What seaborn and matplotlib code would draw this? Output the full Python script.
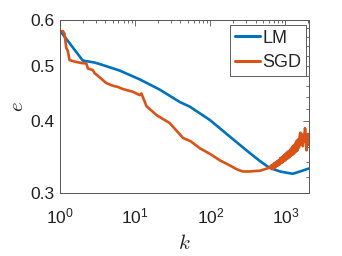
import matplotlib
matplotlib.use("Agg")
import matplotlib.pyplot as plt
import seaborn as sns
import pandas as pd
from matplotlib.ticker import FixedLocator, FixedFormatter, LogLocator, NullFormatter

# ---- data ----
lm_k = [1, 2.01, 2.88, 3.36, 6.21, 11.5, 21.2, 39.2, 53.3, 98.5, 182, 336, 457,
        608, 845, 1247, 1561, 2056]
lm_e = [0.575, 0.510, 0.506, 0.503, 0.490, 0.473, 0.454, 0.432, 0.424, 0.402,
        0.376, 0.352, 0.341, 0.332, 0.327, 0.324, 0.327, 0.331]

sgd_k = [1, 1.09, 1.148, 1.21, 1.27, 1.339, 1.56, 1.92, 2.24, 2.35, 2.74, 2.88,
         3.36, 4.13, 5.06, 5.84, 6.87, 9.35, 11.5, 12.1, 13.0, 14.1, 19.2, 28.8,
         43.4, 55, 72.4, 98.5, 134, 182, 224, 271, 336, 392, 457, 533, 608,
         646, 661, 676, 692, 708, 724, 741, 759, 776, 794, 813, 832, 851, 871,
         891, 912, 933, 955, 977, 1000, 1023, 1047, 1072, 1096, 1122, 1148,
         1175, 1202, 1230, 1259, 1288, 1318, 1349, 1380, 1413, 1445, 1479,
         1514, 1549, 1585, 1622, 1660, 1698, 1738, 1778, 1820, 1862, 1905,
         1950, 1995, 2042, 2056]
sgd_e = [0.5725, 0.574, 0.568, 0.537, 0.530, 0.511, 0.508, 0.505, 0.504, 0.494,
         0.491, 0.485, 0.477, 0.466, 0.461, 0.459, 0.455, 0.450, 0.444, 0.447,
         0.437, 0.425, 0.410, 0.397, 0.374, 0.369, 0.359, 0.351, 0.342, 0.335,
         0.330, 0.327, 0.327, 0.3276, 0.328, 0.330, 0.332,
         0.335, 0.330, 0.336, 0.331, 0.338, 0.332, 0.339, 0.334, 0.341, 0.335,
         0.342, 0.336, 0.345, 0.338, 0.346, 0.339, 0.348, 0.341, 0.350, 0.342,
         0.352, 0.344, 0.354, 0.345, 0.355, 0.347, 0.358, 0.349, 0.361, 0.350,
         0.363, 0.352, 0.366, 0.354, 0.370, 0.356, 0.372, 0.360, 0.378, 0.382,
         0.364, 0.376, 0.362, 0.380, 0.368, 0.389, 0.374, 0.356, 0.374, 0.380,
         0.364, 0.368]

series_names = ["LM", "SGD"]
series_colors = ["#0072BD", "#D95319"]
x_ticks = [1, 10, 100, 1000]
x_tick_labels = [r"$\mathregular{10^{0}}$", r"$\mathregular{10^{1}}$",
                 r"$\mathregular{10^{2}}$", r"$\mathregular{10^{3}}$"]
y_ticks = [0.3, 0.4, 0.5, 0.6]
y_tick_labels = ["0.3", "0.4", "0.5", "0.6"]
y_minor = [0.32, 0.34, 0.36, 0.38, 0.42, 0.44, 0.46, 0.48, 0.52, 0.54, 0.56, 0.58]

# ---- styling ----
sns.set_style("white")
plt.rcParams["font.family"] = ["Liberation Sans", "DejaVu Sans"]
plt.rcParams["mathtext.fontset"] = "cm"

df = pd.concat([
    pd.DataFrame({"k": lm_k, "e": lm_e, "method": series_names[0]}),
    pd.DataFrame({"k": sgd_k, "e": sgd_e, "method": series_names[1]}),
], ignore_index=True)

fig = plt.figure(figsize=(3.42, 2.56), dpi=100)
ax = fig.add_axes([60 / 342, 1 - 193 / 256, 249 / 342, 173 / 256])
sns.lineplot(data=df, x="k", y="e", hue="method", palette=series_colors,
             estimator=None, sort=False, linewidth=1.9, ax=ax)

ax.set_xscale("log")
ax.set_yscale("log")
ax.set_xlim(1, 2056)
ax.set_ylim(0.3, 0.6)

ax.xaxis.set_major_locator(FixedLocator(x_ticks))
ax.xaxis.set_major_formatter(FixedFormatter(x_tick_labels))
ax.xaxis.set_minor_locator(LogLocator(base=10, subs=range(2, 10)))
ax.xaxis.set_minor_formatter(NullFormatter())
ax.yaxis.set_major_locator(FixedLocator(y_ticks))
ax.yaxis.set_major_formatter(FixedFormatter(y_tick_labels))
ax.yaxis.set_minor_locator(FixedLocator(y_minor))
ax.yaxis.set_minor_formatter(NullFormatter())

axis_col = "#555555"
for s in ax.spines.values():
    s.set_color(axis_col)
    s.set_linewidth(0.7)
ax.tick_params(which="both", direction="in", top=True, right=True,
               color=axis_col, width=0.6)
ax.tick_params(which="major", length=4)
ax.tick_params(which="minor", length=2.2)
ax.tick_params(axis="x", which="major", labelsize=12.5, pad=10, labelcolor="#222222")
ax.tick_params(axis="y", which="major", labelsize=12.5, pad=4, labelcolor="#222222")

ax.set_xlabel(r"$k$", fontsize=15, labelpad=5, color="#222222")
ax.set_ylabel(r"$e$", fontsize=15, labelpad=2, color="#222222")

handles, labels = ax.get_legend_handles_labels()
leg = ax.legend(handles, labels, loc="upper right",
                bbox_to_anchor=((306 - 60) / 249, (193 - 25.3) / 173),
                frameon=True, fancybox=False,
                edgecolor="#444444", framealpha=1, fontsize=13, handlelength=1.4,
                handletextpad=0.15, borderpad=0.25, labelspacing=0.4,
                borderaxespad=0.0)
leg.get_frame().set_linewidth(0.6)
for h in leg.get_lines():
    h.set_linewidth(2.2)

fig.savefig("out.png", dpi=100)
